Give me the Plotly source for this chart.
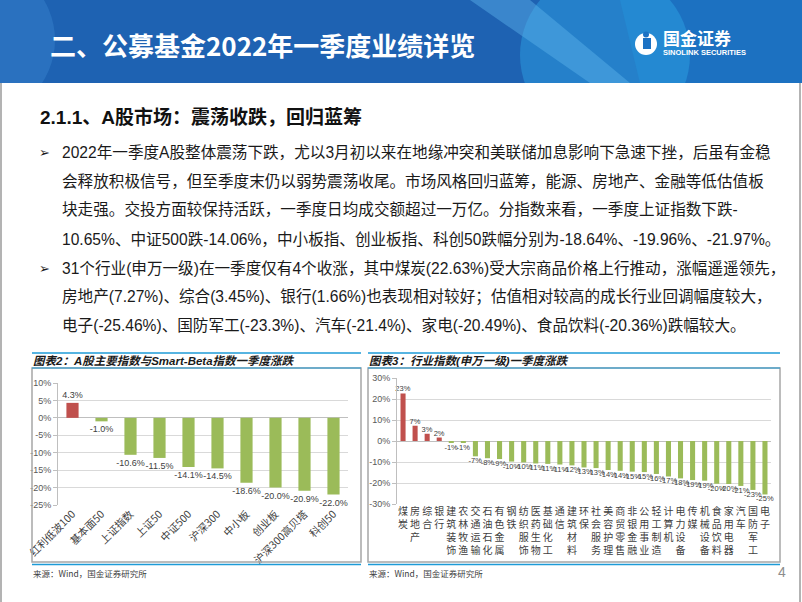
import plotly.graph_objects as go

W, H = 802, 602

# ---------------- data ----------------
idx_names = ["红利低波100", "基本面50", "上证指数", "上证50", "中证500", "沪深300",
             "中小板", "创业板", "沪深300高贝塔", "科创50"]
idx_values = [4.3, -1.0, -10.6, -11.5, -14.1, -14.5, -18.6, -20.0, -20.9, -22.0]

ind_names = ["煤炭", "房地产", "综合", "银行", "建筑装饰", "农林牧渔", "交通运输", "石油石化",
             "有色金属", "钢铁", "纺织服饰", "医药生物", "基础化工", "通信", "建筑材料", "环保",
             "社会服务", "美容护理", "商贸零售", "非银金融", "公用事业", "轻工制造", "计算机",
             "电力设备", "传媒", "机械设备", "食品饮料", "家用电器", "汽车", "国防军工", "电子"]
ind_values = [22.63, 7.27, 3.45, 1.66, -0.6, -0.7, -7.3, -8.2, -8.6, -9.8, -10.2, -10.7,
              -10.9, -11.2, -11.6, -12.6, -12.9, -13.8, -14.2, -14.6, -14.8, -15.7, -16.9,
              -17.8, -18.6, -18.9, -20.36, -20.49, -21.4, -23.3, -25.46]

left_ticks = [10, 5, 0, -5, -10, -15, -20, -25]
right_ticks = [30, 20, 10, 0, -10, -20, -30]

header_title = "二、公募基金2022年一季度业绩详览"
section_title = "2.1.1、A股市场：震荡收跌，回归蓝筹"
body_lines = [
    "2022年一季度A股整体震荡下跌，尤以3月初以来在地缘冲突和美联储加息影响下急速下挫，后虽有金稳",
    "会释放积极信号，但至季度末仍以弱势震荡收尾。市场风格回归蓝筹，能源、房地产、金融等低估值板",
    "块走强。交投方面较保持活跃，一季度日均成交额超过一万亿。分指数来看，一季度上证指数下跌-",
    "10.65%、中证500跌-14.06%，中小板指、创业板指、科创50跌幅分别为-18.64%、-19.96%、-21.97%。",
    "31个行业(申万一级)在一季度仅有4个收涨，其中煤炭(22.63%)受大宗商品价格上行推动，涨幅遥遥领先，",
    "房地产(7.27%)、综合(3.45%)、银行(1.66%)也表现相对较好；估值相对较高的成长行业回调幅度较大，",
    "电子(-25.46%)、国防军工(-23.3%)、汽车(-21.4%)、家电(-20.49%)、食品饮料(-20.36%)跌幅较大。",
]
bullet_rows = [0, 4]
chart2_title = "图表2：A股主要指数与Smart-Beta指数一季度涨跌"
chart3_title = "图表3：行业指数(申万一级)一季度涨跌"
source_text = "来源：Wind，国金证券研究所"

RED, GREEN = "#C0504D", "#9BBB59"
FONT = "Liberation Sans, Noto Sans CJK SC, sans-serif"
CJK = "Noto Sans CJK SC, sans-serif"


def px(x):
    return x / W


def py(y):
    return 1 - y / H


def path(pts):
    s = "M " + " L ".join(f"{px(x):.5f} {py(y):.5f}" for x, y in pts) + " Z"
    return s


fig = go.Figure()

# left chart
fig.add_trace(go.Bar(
    x=idx_names, y=idx_values,
    marker=dict(color=[RED if v > 0 else GREEN for v in idx_values], line=dict(width=0)),
    text=[f"{v:.1f}%" for v in idx_values], textposition="outside", constraintext="none",
    textfont=dict(size=9, color="#404040", family=FONT), cliponaxis=False,
    xaxis="x", yaxis="y", showlegend=False, hoverinfo="x+y",
))

# right chart
fig.add_trace(go.Bar(
    x=ind_names, y=ind_values,
    marker=dict(color=[RED if v > 0 else GREEN for v in ind_values], line=dict(width=0)),
    text=[f"{v:.0f}%" for v in ind_values], textposition="outside", constraintext="none",
    textfont=dict(size=7.5, color="#404040", family=FONT), cliponaxis=False,
    xaxis="x2", yaxis="y2", showlegend=False, hoverinfo="x+y",
))

axis_font = dict(size=9, color="#595959", family=FONT)

fig.update_layout(
    width=W, height=H,
    margin=dict(l=0, r=0, t=0, b=0),
    paper_bgcolor="white", plot_bgcolor="white",
    bargap=0.58,
    xaxis=dict(domain=[px(58), px(348)], anchor="y", showgrid=False, tickangle=-45,
               tickfont=dict(size=10.5, color="#404040", family=CJK), ticks="",
               showline=False, automargin=False),
    yaxis=dict(domain=[py(505), py(383)], anchor="x", range=[-25, 10],
               tickvals=left_ticks, ticktext=[f"{t}%" for t in left_ticks],
               tickfont=axis_font, gridcolor="#D9D9D9", gridwidth=1,
               zeroline=True, zerolinecolor="#BFBFBF", zerolinewidth=1,
               showline=True, linecolor="#BFBFBF", ticks="outside", ticklen=4,
               tickcolor="#BFBFBF", automargin=False),
    xaxis2=dict(domain=[px(397), px(771)], anchor="y2", showgrid=False, tickangle=0,
                tickvals=ind_names, ticktext=["<br>".join(n) for n in ind_names],
                tickfont=dict(size=10, color="#404040", family=CJK), ticks="",
                showline=False, automargin=False),
    yaxis2=dict(domain=[py(504), py(378)], anchor="x2", range=[-30, 30],
                tickvals=right_ticks, ticktext=[f"{t}%" for t in right_ticks],
                tickfont=axis_font, gridcolor="#D9D9D9", gridwidth=1,
                zeroline=True, zerolinecolor="#BFBFBF", zerolinewidth=1,
                showline=True, linecolor="#BFBFBF", ticks="outside", ticklen=4,
                tickcolor="#BFBFBF", automargin=False),
)

shapes = []
# header background
shapes.append(dict(type="rect", xref="paper", yref="paper", x0=0, x1=1, y0=py(83), y1=1,
                   fillcolor="#1E62B2", line=dict(width=0), layer="below"))
shapes.append(dict(type="circle", xref="paper", yref="paper", x0=px(-110), x1=px(55),
                   y0=py(120), y1=py(-40), fillcolor="#3A86CE", opacity=0.45,
                   line=dict(width=0), layer="below"))
shapes.append(dict(type="path", xref="paper", yref="paper",
                   path=path([(620, 0), (802, 0), (802, 83), (640, 83)]),
                   fillcolor="#1B78C8", opacity=0.7, line=dict(width=0), layer="below"))
shapes.append(dict(type="circle", xref="paper", yref="paper", x0=px(520), x1=px(690),
                   y0=py(140), y1=py(-30), fillcolor="#2FA6E6", opacity=0.45,
                   line=dict(width=0), layer="below"))
shapes.append(dict(type="path", xref="paper", yref="paper",
                   path=path([(470, 0), (530, 0), (630, 83), (590, 83)]),
                   fillcolor="#5DB4EC", opacity=0.45, line=dict(width=0), layer="below"))
# cover any overflow of circles below header
shapes.append(dict(type="rect", xref="paper", yref="paper", x0=0, x1=1, y0=0, y1=py(83),
                   fillcolor="white", line=dict(width=0), layer="below"))
# logo icon
shapes.append(dict(type="circle", xref="paper", yref="paper", x0=px(635), x1=px(657),
                   y0=py(55), y1=py(33), fillcolor="white", line=dict(width=0)))
shapes.append(dict(type="rect", xref="paper", yref="paper", x0=px(643), x1=px(651),
                   y0=py(49), y1=py(38), fillcolor="#1C72C4", line=dict(width=0)))
shapes.append(dict(type="circle", xref="paper", yref="paper", x0=px(643), x1=px(649),
                   y0=py(37.5), y1=py(31.5), fillcolor="#1C72C4", line=dict(width=0)))

# slide side borders
for xx in (1, 800):
    shapes.append(dict(type="line", xref="paper", yref="paper", x0=px(xx), x1=px(xx),
                       y0=0, y1=py(83), line=dict(color="#9A9A9A", width=1.5)))

# chart frames
for (xa, xb) in ((32, 361), (368, 780)):
    shapes.append(dict(type="line", xref="paper", yref="paper", x0=px(xa), x1=px(xb),
                       y0=py(353), y1=py(353), line=dict(color="#1E9BD7", width=1.5)))
    shapes.append(dict(type="rect", xref="paper", yref="paper", x0=px(xa), x1=px(xb),
                       y0=py(562), y1=py(368), line=dict(color="#A6A6A6", width=1.5)))
    shapes.append(dict(type="line", xref="paper", yref="paper", x0=px(xa), x1=px(xb),
                       y0=py(368), y1=py(368), line=dict(color="#1E9BD7", width=1)))
    shapes.append(dict(type="line", xref="paper", yref="paper", x0=px(xa), x1=px(xb),
                       y0=py(564.5), y1=py(564.5), line=dict(color="#1E9BD7", width=1.5)))

fig.update_layout(shapes=shapes)

ann = []


def text(x, y, s, size, color="#1A1A1A", family=FONT, xanchor="left"):
    ann.append(dict(x=px(x), y=py(y), xref="paper", yref="paper", text=s, showarrow=False,
                    xanchor=xanchor, yanchor="middle", font=dict(size=size, color=color, family=family)))


text(48, 45, f"<b>{header_title}</b>", 26, "white", CJK)
text(661, 38, "<b>国金证券</b>", 17, "white", CJK)
text(661, 53, "<b>SINOLINK SECURITIES</b>", 7.5, "white", "Liberation Sans, sans-serif")
text(38, 117, f"<b>{section_title}</b>", 19, "#111111")

row_y = [152, 181, 210, 239, 268, 297, 325]
for i, line in enumerate(body_lines):
    text(60, row_y[i], line, 15.6, "#1A1A1A")
for r in bullet_rows:
    text(37, row_y[r], "➢", 13, "#1A1A1A", "DejaVu Sans")

text(31, 361, f"<b><i>{chart2_title}</i></b>", 11.5, "#1A1A1A")
text(367, 361, f"<b><i>{chart3_title}</i></b>", 11.5, "#1A1A1A")
text(31, 573, source_text, 8.5, "#404040", CJK)
text(367, 573, source_text, 8.5, "#404040", CJK)
text(776, 572, "4", 14, "#8C8C8C")

fig.update_layout(annotations=ann)
fig.write_html("out.html", config={"displayModeBar": False},
               post_script="document.body.style.margin='0';document.body.style.overflow='hidden';")
